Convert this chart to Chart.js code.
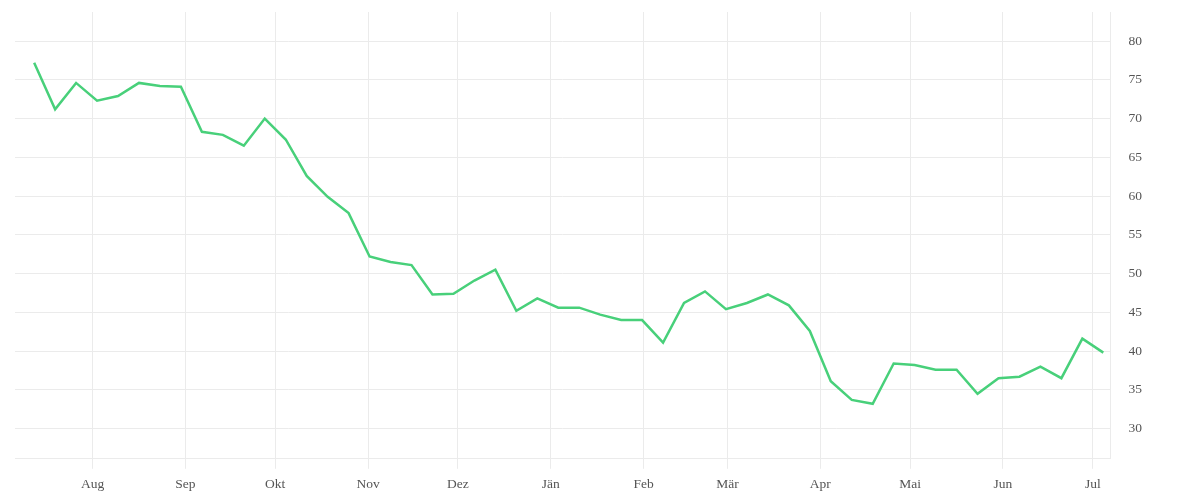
<!DOCTYPE html>
<html>
<head>
<meta charset="utf-8">
<script src="https://cdn.jsdelivr.net/npm/chart.js@4/dist/chart.umd.min.js"></script>
<style>
html,body{margin:0;padding:0;background:#fff;}
#wrap{width:1200px;height:500px;}
</style>
</head>
<body>
<div id="wrap"><canvas id="chart" width="1200" height="500"></canvas></div>
<script>
// weekly readings
const weekDates = [
"2022-07-12","2022-07-19","2022-07-26","2022-08-02","2022-08-09","2022-08-16","2022-08-23","2022-08-30",
"2022-09-06","2022-09-13","2022-09-20","2022-09-27","2022-10-04","2022-10-11","2022-10-18","2022-10-25",
"2022-11-01","2022-11-08","2022-11-15","2022-11-22","2022-11-29","2022-12-06","2022-12-13","2022-12-20",
"2022-12-27","2023-01-03","2023-01-10","2023-01-17","2023-01-24","2023-01-31","2023-02-07","2023-02-14",
"2023-02-21","2023-02-28","2023-03-07","2023-03-14","2023-03-21","2023-03-28","2023-04-04","2023-04-11",
"2023-04-18","2023-04-25","2023-05-02","2023-05-09","2023-05-16","2023-05-23","2023-05-30","2023-06-06",
"2023-06-13","2023-06-20","2023-06-27","2023-07-04"
];
const values = [
77.2,71.2,74.6,72.3,72.9,74.6,74.2,74.1,
68.3,67.9,66.5,70.0,67.3,62.6,59.9,57.8,
52.2,51.5,51.1,47.3,47.4,49.1,50.5,45.2,
46.8,45.6,45.6,44.7,44.0,44.0,41.1,46.2,
47.7,45.4,46.2,47.3,45.9,42.6,36.1,33.7,
33.2,38.4,38.2,37.6,37.6,34.5,36.5,36.7,
38.0,36.5,41.6,39.8
];

// axis labels
const monthLabels = ["Aug","Sep","Okt","Nov","Dez","Jän","Feb","Mär","Apr","Mai","Jun","Jul"];
const monthStarts = ["2022-08-01","2022-09-01","2022-10-01","2022-11-01","2022-12-01","2023-01-01",
"2023-02-01","2023-03-01","2023-04-01","2023-05-01","2023-06-01","2023-07-01"];
const yTicks = [30,35,40,45,50,55,60,65,70,75,80];

const DAY = 86400000;
const origin = Date.parse("2022-08-01T00:00:00Z");
function dayOf(s, hour){
  return (Date.parse(s+"T"+(hour||"00")+":00:00Z") - origin)/DAY;
}
const monthDays = monthStarts.map(s => dayOf(s));
const points = weekDates.map((d,i) => ({x: dayOf(d,"12"), y: values[i]}));

const gridCol = '#ebebeb';
const labelFont = {family:'"Liberation Serif", "DejaVu Serif", serif', size:13.5};

new Chart(document.getElementById('chart'),{
type:'line',
data:{
datasets:[{
data:points,
borderColor:'#48d07a',
borderWidth:2.5,
pointRadius:0,
tension:0,
fill:false
}]
},
options:{
responsive:false,
animation:false,
layout:{padding:{left:15,top:12,right:58,bottom:-1}},
plugins:{legend:{display:false},tooltip:{enabled:false}},
scales:{
x:{
type:'linear',
min:-25.9,
max:339.9,
afterBuildTicks:function(scale){
scale.ticks = monthDays.map(v => ({value:v}));
},
grid:{color:gridCol,lineWidth:1,tickLength:10,drawTicks:true},
border:{display:true,color:gridCol},
ticks:{
autoSkip:false,
maxRotation:0,
padding:8,
color:'#555',
font:labelFont,
callback:function(v){
let i = monthDays.indexOf(v);
return i >= 0 ? monthLabels[i] : '';
}
}
},
y:{
position:'right',
min:26.1,
max:83.75,
afterBuildTicks:function(scale){
scale.ticks = yTicks.map(v => ({value:v}));
},
// invisible tick marks make the gap before the labels
grid:{color:gridCol,lineWidth:1,drawTicks:true,tickLength:18,tickColor:'rgba(0,0,0,0)'},
border:{display:true,color:gridCol},
ticks:{padding:0,color:'#555',font:labelFont}
}
}
}
});
</script>
</body>
</html>
